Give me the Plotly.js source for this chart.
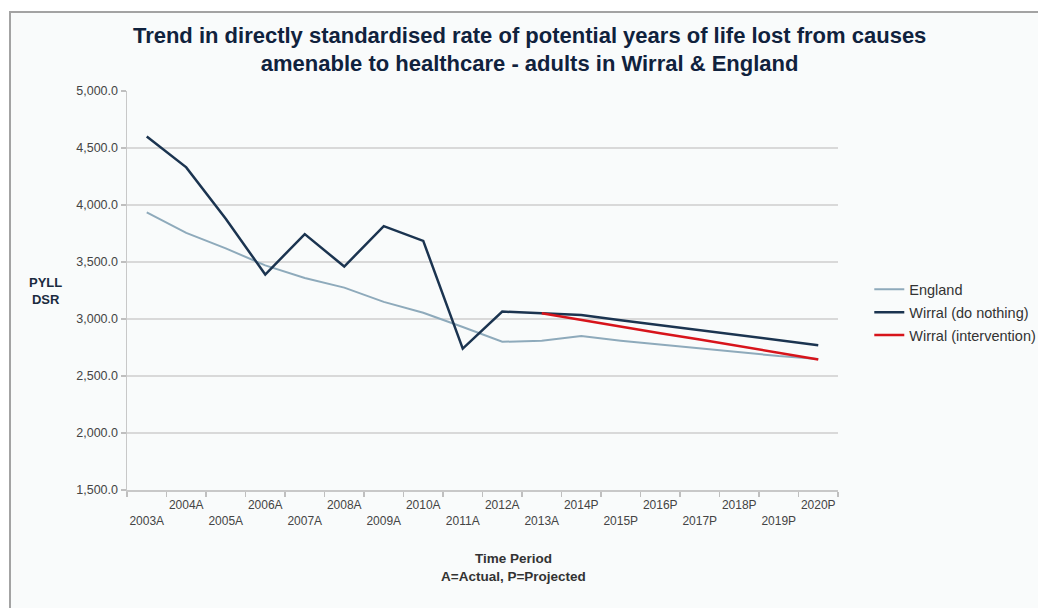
<!DOCTYPE html>
<html>
<head>
<meta charset="utf-8">
<script src="https://cdn.plot.ly/plotly-3.0.1.min.js"></script>
<style>
  html, body { margin: 0; padding: 0; background: #ffffff; }
  #frame {
    position: absolute; left: 9px; top: 11px;
    border-top: 2px solid #a3a3a3; border-left: 2px solid #a3a3a3;
    width: 1027px; height: 595px; background: #f9fbfb;
  }
  #chart { width: 1027px; height: 595px; }
</style>
</head>
<body>
<div id="frame"><div id="chart"></div></div>
<script>
// Time periods: A = actual, P = projected
const periods = ['2003A','2004A','2005A','2006A','2007A','2008A','2009A','2010A','2011A',
                 '2012A','2013A','2014P','2015P','2016P','2017P','2018P','2019P','2020P'];

// Directly standardised PYLL rate (per 100,000)
const england = [3935, 3755, 3620, 3470, 3360, 3275, 3150, 3055, 2930,
                 2800, 2810, 2850, 2810, 2775, 2740, 2705, 2675, 2650];
const wirralDoNothing = [4600, 4330, 3880, 3390, 3745, 3460, 3815, 3685, 2740,
                         3065, 3050, 3035, 2990, 2945, 2900, 2860, 2815, 2770];
const wirralIntervention = [null, null, null, null, null, null, null, null, null,
                            null, 3050, 2990, 2935, 2875, 2820, 2760, 2705, 2645];

const yTicks = [1500, 2000, 2500, 3000, 3500, 4000, 4500, 5000];

// staggered category labels: every other label drops to a second row
const tickText = periods.map((p, i) => (i % 2 === 0 ? '&nbsp;<br>' + p : p));

const traces = [
  { name: 'England', legendgroup: 'a', x: periods, y: england, type: 'scatter', mode: 'lines',
    line: { color: '#8eaabb', width: 2 } },
  { name: 'Wirral (do nothing)', legendgroup: 'b', x: periods, y: wirralDoNothing, type: 'scatter', mode: 'lines',
    line: { color: '#1b3450', width: 2.5 } },
  { name: 'Wirral (intervention)', legendgroup: 'c', x: periods, y: wirralIntervention, type: 'scatter', mode: 'lines',
    line: { color: '#d7141b', width: 2.5 }, connectgaps: false }
];

const layout = {
  width: 1027, height: 595,
  paper_bgcolor: '#f9fbfb', plot_bgcolor: '#f9fbfb',
  margin: { l: 116, r: 200, t: 78, b: 118, autoexpand: false },
  font: { family: 'Liberation Sans, Arial, sans-serif', color: '#444444', size: 12 },
  title: {
    text: 'Trend in directly standardised rate of potential years of life lost from causes<br>amenable to healthcare - adults in Wirral &amp; England',
    font: { family: 'Liberation Sans, Arial, sans-serif',
            size: 22, color: '#10223d', weight: 'bold' },
    x: 0.505, xanchor: 'center', y: 0.95, yanchor: 'top', yref: 'container'
  },
  xaxis: {
    type: 'category', range: [-0.5, periods.length - 0.5],
    tickmode: 'array', tickvals: periods, ticktext: tickText,
    tickson: 'boundaries', ticks: 'outside', ticklen: 5, tickcolor: '#bfbfbf', tickwidth: 1.5,
    ticklabelstandoff: 3,
    showline: true, linecolor: '#c8c8c8', linewidth: 1.5,
    showgrid: false, tickangle: 0,
    tickfont: { size: 12, color: '#444444' }
  },
  yaxis: {
    range: [1500, 5000], tickmode: 'array', tickvals: yTicks,
    tickformat: ',.1f',
    ticks: 'outside', ticklen: 5, tickcolor: '#bfbfbf', tickwidth: 1.5,
    showline: true, linecolor: '#c8c8c8', linewidth: 1.5,
    gridcolor: '#d9d9d9', gridwidth: 1.5, zeroline: false,
    tickfont: { size: 12.5, color: '#444444' }
  },
  legend: {
    x: 1.044, xanchor: 'left', y: 0.445, yanchor: 'middle',
    bgcolor: 'rgba(0,0,0,0)', itemwidth: 30, tracegroupgap: 1,
    font: { size: 14.5, color: '#333333' }
  },
  annotations: [
    { text: '<b>PYLL<br>DSR</b>', xref: 'paper', yref: 'paper', x: -0.114, y: 0.5,
      xanchor: 'center', yanchor: 'middle', showarrow: false,
      font: { size: 13, color: '#1b2b3f' } },
    { text: '<b>Time Period</b><br><b>A=Actual, P=Projected</b>', xref: 'paper', yref: 'paper',
      x: 0.544, y: -0.195, xanchor: 'center', yanchor: 'middle', showarrow: false,
      font: { size: 13.5, color: '#333333' } }
  ]
};

Plotly.newPlot('chart', traces, layout, { displayModeBar: false, staticPlot: true });
</script>
</body>
</html>
